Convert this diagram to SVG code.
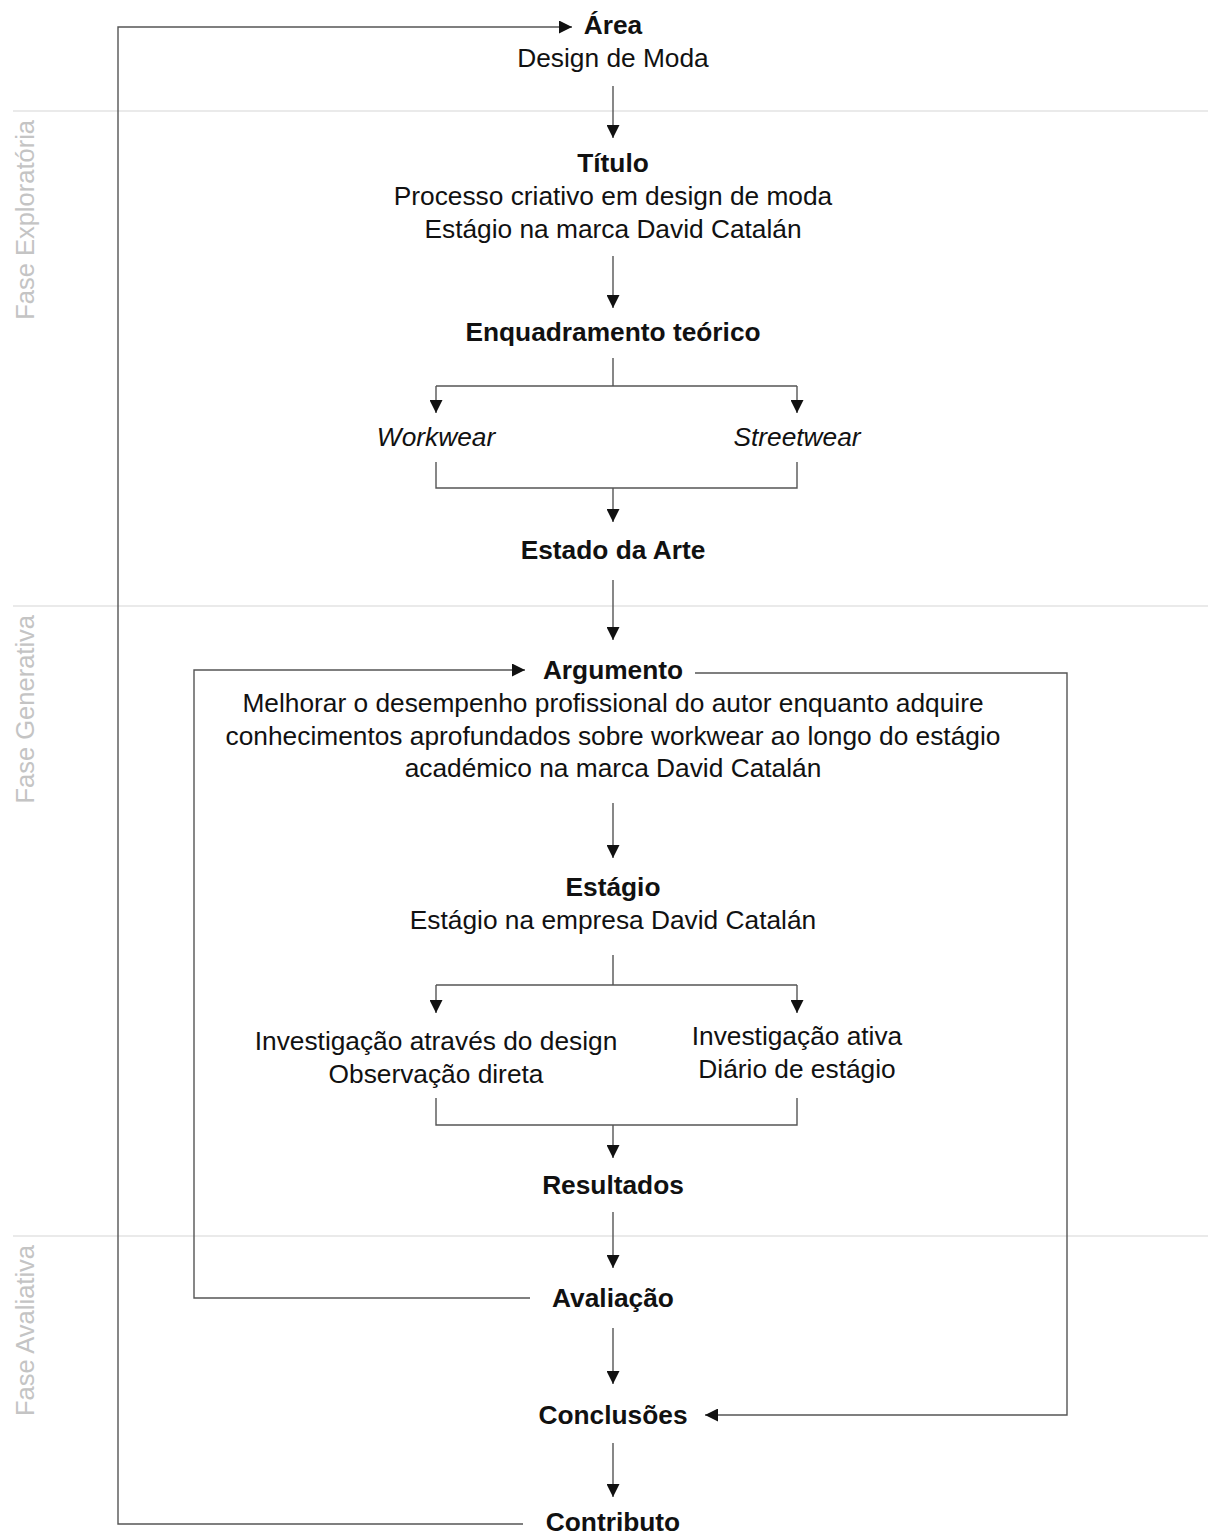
<svg xmlns="http://www.w3.org/2000/svg" width="1208" height="1535" viewBox="0 0 1208 1535">
<style>
  text { font-family: "Liberation Sans", Arial, sans-serif; fill: #111; }
  .t { font-size: 26.3px; text-anchor: middle; }
  .b { font-size: 26.3px; font-weight: bold; text-anchor: middle; }
  .i { font-size: 26.3px; font-style: italic; text-anchor: middle; }
  .phase { font-size: 25.5px; fill: #c4c4c4; text-anchor: end; }
  .div { stroke: #d6d6d6; stroke-width: 1.2; fill: none; }
  .c { stroke: #555; stroke-width: 1.4; fill: none; }
  .a { stroke: #555; stroke-width: 1.4; fill: none; marker-end: url(#ah); }
</style>
<defs>
  <marker id="ah" viewBox="0 0 13 13" refX="13" refY="6.5" markerWidth="13" markerHeight="13" markerUnits="userSpaceOnUse" orient="auto">
    <path d="M0,0 L13,6.5 L0,13 Z" fill="#111"/>
  </marker>
</defs>
<rect width="1208" height="1535" fill="#fff"/>

<g id="phases">
  <line class="div" x1="13" y1="111" x2="1208" y2="111"/>
  <line class="div" x1="13" y1="606" x2="1208" y2="606"/>
  <line class="div" x1="13" y1="1236" x2="1208" y2="1236"/>
  <text class="phase" transform="translate(34,120) rotate(-90)">Fase Exploratória</text>
  <text class="phase" transform="translate(34,615) rotate(-90)">Fase Generativa</text>
  <text class="phase" transform="translate(34,1245) rotate(-90)">Fase Avaliativa</text>
</g>

<g id="connectors">
  <path class="a" d="M613,86 V138"/>
  <path class="a" d="M613,256 V308"/>
  <path class="c" d="M613,358 V386 M436,386 H797"/>
  <path class="a" d="M436,386 V413"/>
  <path class="a" d="M797,386 V413"/>
  <path class="c" d="M436,462 V488 H797 V462"/>
  <path class="a" d="M613,488 V522"/>
  <path class="a" d="M613,580 V640"/>
  <path class="a" d="M613,803 V858"/>
  <path class="c" d="M613,955 V985 M436,985 H797"/>
  <path class="a" d="M436,985 V1013"/>
  <path class="a" d="M797,985 V1013"/>
  <path class="c" d="M436,1098 V1125 H797 V1098"/>
  <path class="a" d="M613,1125 V1158"/>
  <path class="a" d="M613,1212 V1268"/>
  <path class="a" d="M613,1328 V1384"/>
  <path class="a" d="M613,1443 V1497"/>
  <path class="a" d="M530,1298 H194 V670 H525"/>
  <path class="a" d="M695,673 H1067 V1415 H705"/>
  <path class="a" d="M523,1524 H118 V27 H572"/>
</g>

<g id="area">
  <text class="b" x="613" y="34">Área</text>
  <text class="t" x="613" y="67">Design de Moda</text>
</g>
<g id="titulo">
  <text class="b" x="613" y="172">Título</text>
  <text class="t" x="613" y="205">Processo criativo em design de moda</text>
  <text class="t" x="613" y="238">Estágio na marca David Catalán</text>
</g>
<g id="enquadramento">
  <text class="b" x="613" y="341">Enquadramento teórico</text>
</g>
<g id="workwear">
  <text class="i" x="436" y="446">Workwear</text>
</g>
<g id="streetwear">
  <text class="i" x="797" y="446">Streetwear</text>
</g>
<g id="estado">
  <text class="b" x="613" y="559">Estado da Arte</text>
</g>
<g id="argumento">
  <text class="b" x="613" y="679">Argumento</text>
  <text class="t" x="613" y="712">Melhorar o desempenho profissional do autor enquanto adquire</text>
  <text class="t" x="613" y="745">conhecimentos aprofundados sobre workwear ao longo do estágio</text>
  <text class="t" x="613" y="777">académico na marca David Catalán</text>
</g>
<g id="estagio">
  <text class="b" x="613" y="896">Estágio</text>
  <text class="t" x="613" y="929">Estágio na empresa David Catalán</text>
</g>
<g id="metodos-esq">
  <text class="t" x="436" y="1050">Investigação através do design</text>
  <text class="t" x="436" y="1083">Observação direta</text>
</g>
<g id="metodos-dir">
  <text class="t" x="797" y="1045">Investigação ativa</text>
  <text class="t" x="797" y="1078">Diário de estágio</text>
</g>
<g id="resultados">
  <text class="b" x="613" y="1194">Resultados</text>
</g>
<g id="avaliacao">
  <text class="b" x="613" y="1307">Avaliação</text>
</g>
<g id="conclusoes">
  <text class="b" x="613" y="1424">Conclusões</text>
</g>
<g id="contributo">
  <text class="b" x="613" y="1531">Contributo</text>
</g>
</svg>
